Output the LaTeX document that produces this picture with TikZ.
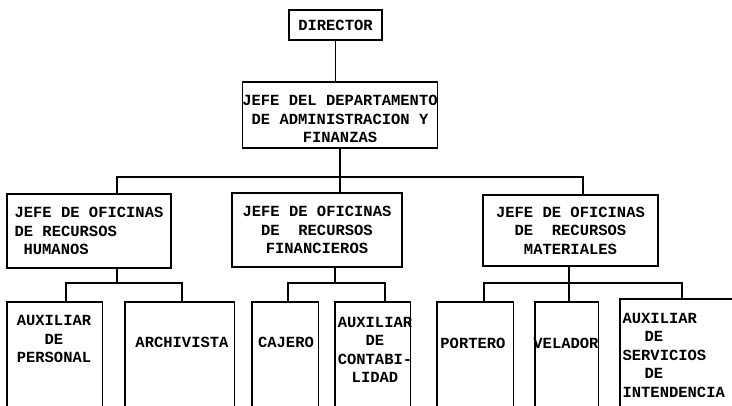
\documentclass[tikz,border=0pt]{standalone}
\usepackage{fontspec}
\setmonofont{Liberation Mono}
\usetikzlibrary{positioning}

\begin{document}
\begin{tikzpicture}[x=1pt, y=-1pt, line width=1.1pt,
  every node/.style={font=\ttfamily\bfseries\fontsize{15.5}{18.5}\selectfont, inner sep=0pt},
  box/.style={draw, rectangle, align=center},
  openbox/.style={rectangle, anchor=north west, minimum height=#1},
  openbox/.default=103pt,
  label/.style={align=center}]
  \useasboundingbox (0,0) rectangle (732,405);
  % upper levels
  \node [box, minimum width=93pt, minimum height=30pt] (dir) at (335.5,25) {DIRECTOR};
  \node [box, minimum width=194pt, minimum height=66pt] (jefe) at (340,115)
    {\rule{0pt}{19pt}JEFE DEL DEPARTAMENTO\\DE ADMINISTRACION Y\\FINANZAS};
  \node [box, align=left, minimum width=164pt, minimum height=74pt] (hum) at (89,231)
    {JEFE DE OFICINAS\\DE RECURSOS\\\hspace*{9pt}HUMANOS};
  \node [box, minimum width=170pt, minimum height=74pt] (fin) at (317,230)
    {JEFE DE OFICINAS\\DE\ \ RECURSOS\\FINANCIEROS};
  \node [box, minimum width=175pt, minimum height=71pt] (mat) at (570.5,230.5)
    {JEFE DE OFICINAS\\DE\ \ RECURSOS\\MATERIALES};
  % lower level, boxes open at the bottom
  \foreach \n/\xa/\w/\ya in {aux/7/94/302, arch/125/108/302, caj/252/65/302,
      auxc/335/74/302, port/437/75/302, vel/535/62/302, serv/620/111/299}
  {
    \node [openbox=405pt-\ya pt, minimum width=\w pt] (\n) at (\xa,\ya) {};
    \draw (\n.south west) |- (\n.north east) -- (\n.south east);
  }
  \node [label] (auxl) at (54,339) {AUXILIAR\\DE\\PERSONAL};
  \node [label] (archl) at (182,342) {ARCHIVISTA};
  \node [label] (cajl) at (286,342) {CAJERO};
  \node [label] (auxcl) at (375,350) {AUXILIAR\\DE\\CONTABI-\\LIDAD};
  \node [label] (portl) at (473,343) {PORTERO};
  \node [label] (vell) at (566,343) {VELADOR};
  \node [align=left, anchor=west] (servl) at (622,355)
    {AUXILIAR\\\hspace*{22pt}DE\\SERVICIOS\\\hspace*{22pt}DE\\INTENDENCIA};
  % connectors
  \draw (dir.south) -- (dir.south |- jefe.north);
  \draw (jefe.south) -- (jefe.south |- fin.north);
  \coordinate (busl) at (117,177);
  \coordinate (busr) at (583,177);
  \draw (busl |- hum.north) -- (busl) -- (busr) -- (busr |- mat.north);
  \coordinate (hm) at (117,283);
  \coordinate (ha) at (66,283);
  \coordinate (hb) at (182,283);
  \draw (hm |- hum.south) -- (hm);
  \draw (ha |- aux.north) -- (ha) -- (hb) -- (hb |- arch.north);
  \coordinate (fm) at (335,283);
  \coordinate (fa) at (288,283);
  \coordinate (fb) at (385,283);
  \draw (fm |- fin.south) -- (fm);
  \draw (fa |- caj.north) -- (fa) -- (fb) -- (fb |- auxc.north);
  \coordinate (mm) at (569,283);
  \coordinate (ma) at (484,283);
  \coordinate (mb) at (682,283);
  \draw (mm |- mat.south) -- (mm |- vel.north);
  \draw (ma |- port.north) -- (ma) -- (mb) -- (mb |- serv.north);
\end{tikzpicture}
\end{document}
